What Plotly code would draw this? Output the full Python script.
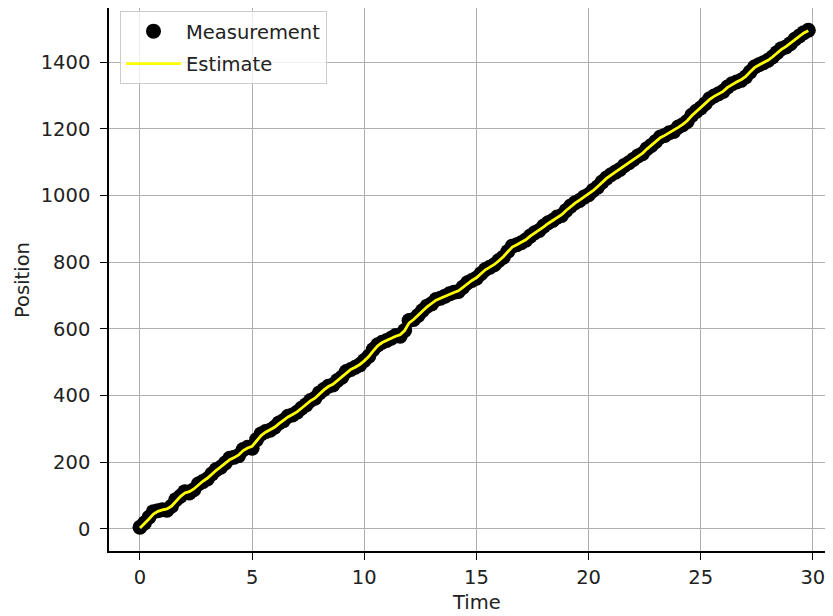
import plotly.graph_objects as go

# Time axis (s), 0.2 s step
time = [round(i * 0.2, 1) for i in range(150)]

measurement = [
    5, 18, 35, 52, 55, 58, 56, 68, 88, 98,
    112, 108, 118, 135, 142, 150, 165, 178, 185, 198,
    212, 215, 220, 238, 245, 242, 268, 285, 292, 296,
    305, 318, 325, 338, 342, 350, 362, 372, 385, 392,
    408, 418, 428, 432, 445, 455, 472, 478, 485, 492,
    505, 518, 538, 552, 560, 565, 572, 580, 578, 595,
    625, 628, 640, 655, 668, 675, 688, 692, 698, 705,
    710, 712, 725, 738, 745, 752, 765, 778, 785, 792,
    805, 815, 832, 848, 852, 858, 866, 878, 888, 895,
    908, 918, 925, 935, 940, 955, 968, 978, 985, 995,
    1002, 1015, 1025, 1040, 1052, 1062, 1070, 1078, 1090, 1098,
    1108, 1118, 1125, 1140, 1150, 1162, 1175, 1180, 1188, 1192,
    1205, 1212, 1222, 1240, 1252, 1262, 1275, 1290, 1298, 1305,
    1312, 1325, 1335, 1340, 1345, 1355, 1370, 1385, 1392, 1398,
    1405, 1415, 1428, 1440, 1445, 1455, 1468, 1478, 1488, 1495,
]

estimate = [
    3, 15, 30, 45, 53, 57, 60, 68, 84, 97,
    108, 112, 120, 133, 143, 152, 165, 176, 186, 197,
    208, 214, 222, 235, 243, 248, 264, 280, 290, 297,
    305, 316, 326, 336, 343, 351, 362, 373, 384, 392,
    406, 417, 427, 434, 445, 456, 469, 478, 485, 493,
    504, 517, 534, 549, 559, 565, 573, 578, 582, 595,
    618, 628, 641, 654, 666, 676, 686, 692, 698, 705,
    709, 714, 725, 736, 745, 753, 765, 777, 785, 793,
    804, 816, 831, 845, 852, 859, 867, 878, 887, 895,
    906, 916, 925, 934, 942, 955, 967, 977, 986, 995,
    1003, 1014, 1026, 1039, 1051, 1061, 1070, 1079, 1090, 1098,
    1107, 1117, 1126, 1139, 1150, 1162, 1173, 1180, 1188, 1194,
    1204, 1213, 1224, 1239, 1251, 1262, 1275, 1288, 1297, 1305,
    1312, 1324, 1333, 1340, 1347, 1356, 1370, 1383, 1391, 1398,
    1405, 1415, 1427, 1438, 1446, 1456, 1467, 1478, 1487, 1494,
]

x_ticks = [0, 5, 10, 15, 20, 25, 30]
y_ticks = [0, 200, 400, 600, 800, 1000, 1200, 1400]

FONT = "DejaVu Sans"
FS = 19.5
TXT = "#222222"

# figure is drawn inside the page's 8px body margin
W, H = 825, 608
ML, MT = 101, 0
PW, PH = 724, 543

fig = go.Figure()
fig.add_trace(go.Scatter(
    x=time, y=measurement, mode="markers", name="Measurement",
    legendgroup="m",
    marker=dict(color="black", size=15, line=dict(width=0)),
))
fig.add_trace(go.Scatter(
    x=time, y=estimate, mode="lines", name="Estimate",
    legendgroup="e",
    line=dict(color="#ffff00", width=2.8),
))

axis_common = dict(
    showgrid=True, gridcolor="#b0b0b0", gridwidth=1.2,
    zeroline=False, showline=True, linecolor="black", linewidth=1.5,
    ticks="outside", ticklen=7, tickwidth=1.3, tickcolor="black",
    tickfont=dict(family=FONT, size=FS, color=TXT),
    automargin=False,
)

fig.update_layout(
    width=W, height=H,
    margin=dict(l=ML, r=W - ML - PW, t=MT, b=H - MT - PH),
    paper_bgcolor="white", plot_bgcolor="white",
    font=dict(family=FONT, size=FS, color=TXT),
    xaxis=dict(
        range=[-1.382, 30.9], tickvals=x_ticks, mirror=True,
        ticklabelstandoff=1,
        **axis_common,
    ),
    yaxis=dict(
        range=[-66, 1561.9], tickvals=y_ticks,
        ticklabelstandoff=6,
        **axis_common,
    ),
    legend=dict(
        x=(120 - 109) / PW, y=(551 - 11) / PH, xanchor="left", yanchor="top",
        bgcolor="rgba(255,255,255,0.8)", bordercolor="#cccccc", borderwidth=1,
        font=dict(family=FONT, size=FS, color=TXT),
        tracegroupgap=4, traceorder="grouped", itemwidth=55,
    ),
    showlegend=True,
    annotations=[
        dict(text="Time", x=15, xref="x", y=(551 - 602) / PH, yref="paper",
             xanchor="center", yanchor="middle", showarrow=False,
             font=dict(family=FONT, size=FS, color=TXT)),
        dict(text="Position", x=(22 - 109) / PW, xref="paper",
             y=(551 - 280) / PH, yref="paper", textangle=-90,
             xanchor="center", yanchor="middle", showarrow=False,
             font=dict(family=FONT, size=FS, color=TXT)),
    ],
)

fig.write_html("out.html")
